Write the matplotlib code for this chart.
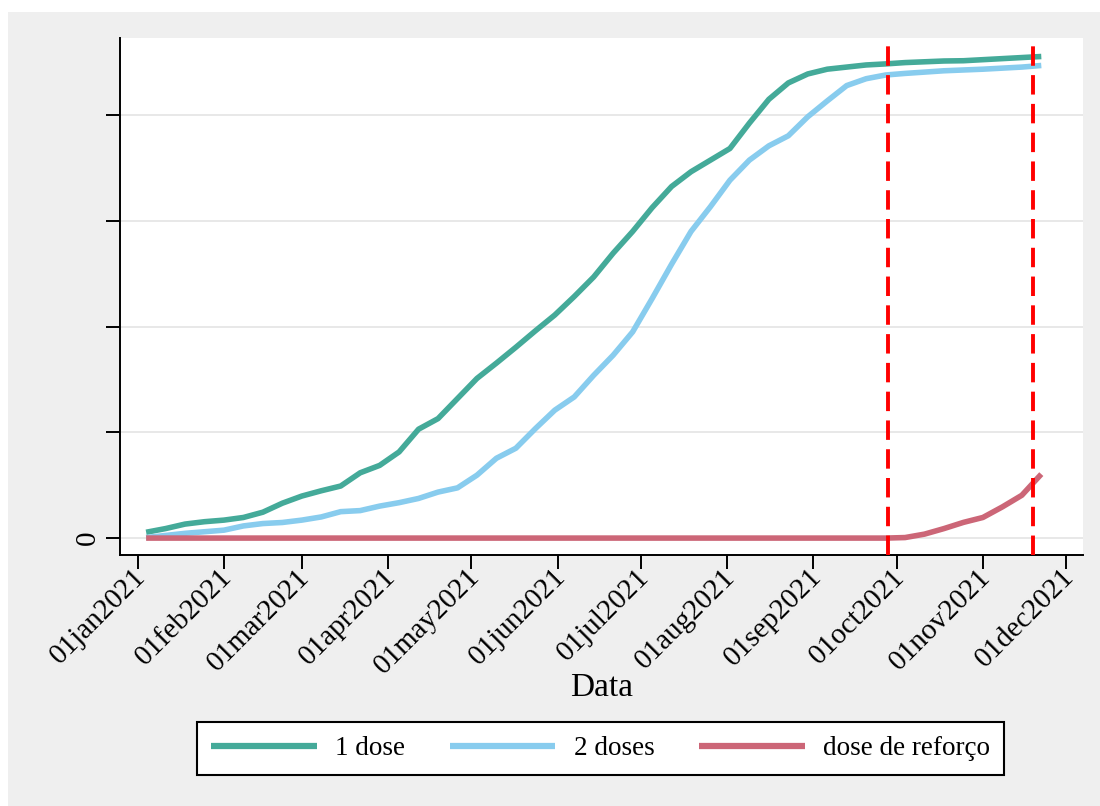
import numpy as np
import pandas as pd
import matplotlib
matplotlib.use("Agg")
import matplotlib.pyplot as plt
import matplotlib.dates as mdates
import matplotlib.transforms as mtransforms
from matplotlib.patches import Rectangle

# weekly series, % of population (y tick labels hidden except 0)
dates = pd.date_range("2021-01-04", periods=47, freq="7D")

dose1 = [1.1, 1.8, 2.65, 3.1, 3.4, 3.9, 4.9, 6.6, 7.95, 8.95,
         9.85, 12.35, 13.75, 16.3, 20.6, 22.6, 26.4, 30.2, 33.1, 36.1,
         39.2, 42.2, 45.7, 49.4, 53.9, 58.0, 62.5, 66.5, 69.3, 71.5,
         73.7, 78.5, 83.0, 86.1, 87.8, 88.7, 89.1, 89.5, 89.7, 89.95,
         90.1, 90.25, 90.3, 90.5, 90.7, 90.9, 91.1]

dose2 = [0.1, 0.5, 0.9, 1.2, 1.5, 2.3, 2.75, 2.95, 3.4, 4.0,
         5.0, 5.2, 6.05, 6.7, 7.5, 8.7, 9.5, 11.9, 15.1, 17.0,
         20.7, 24.2, 26.7, 30.8, 34.6, 39.0, 45.3, 51.8, 58.0, 62.7,
         67.7, 71.5, 74.2, 76.1, 79.7, 82.7, 85.6, 86.9, 87.6, 87.9,
         88.15, 88.4, 88.55, 88.7, 88.9, 89.1, 89.4]

booster = [0.0] * 39 + [0.1, 0.75, 1.8, 2.97, 3.9, 5.9, 8.1, 12.1]

vlines = ["2021-09-28", "2021-11-19"]
month_ticks = pd.date_range("2021-01-01", "2021-12-01", freq="MS")
month_labels = [d.strftime("%d%b%Y").lower() for d in month_ticks]
y_ticks = [0, 20, 40, 60, 80]
y_labels = ["0", "", "", "", ""]
labels = ["1 dose", "2 doses", "dose de reforço"]
colors = ["#44AA99", "#88CCEE", "#CC6677"]

plt.rcParams["font.family"] = ["Liberation Serif", "DejaVu Serif"]
bg = "#efefef"

fig = plt.figure(figsize=(11, 8.06), dpi=100, facecolor="white")
fig.patches.append(Rectangle((8 / 1100, 0), 1, 1 - 12 / 806, transform=fig.transFigure,
                             facecolor=bg, edgecolor="none", zorder=-10))

ax = fig.add_axes([120 / 1100, 1 - 555 / 806, (1083 - 120) / 1100, (555 - 38) / 806])
ax.set_facecolor("white")

for vals, lab, c in zip([dose1, dose2, booster], labels, colors):
    ax.plot(dates, vals, color=c, lw=4.0, label=lab, solid_capstyle="butt", zorder=3)

for d in vlines:
    ax.axvline(pd.Timestamp(d), color="#ff0000", lw=2.8, ls=(0, (5, 2.4)), zorder=4)

jan1 = mdates.date2num(pd.Timestamp("2021-01-01"))
ax.set_xlim(jan1 - 6.4, jan1 + 340.0)
ax.set_ylim(-3.2, 94.6)

ax.set_yticks(y_ticks)
ax.set_yticklabels(y_labels, rotation=90, va="center", fontsize=21)
ax.set_xticks(month_ticks)
ax.set_xticklabels(month_labels, rotation=45, ha="right", va="center",
                   rotation_mode="anchor", fontsize=21)
ax.tick_params(axis="both", length=10, width=1.4, direction="out", pad=4)
ax.tick_params(axis="x", pad=3)
shift = mtransforms.ScaledTranslation(4 / 100, 0, fig.dpi_scale_trans)
for t in ax.get_xticklabels():
    t.set_transform(t.get_transform() + shift)

ax.grid(axis="y", color="#e8e8e8", lw=1.4, zorder=0)
ax.set_axisbelow(True)
for s in ["top", "right"]:
    ax.spines[s].set_visible(False)
for s in ["left", "bottom"]:
    ax.spines[s].set_linewidth(1.4)

ax.set_xlabel("Data", fontsize=24)
ax.xaxis.label.set_va("center")
ax.xaxis.set_label_coords(0.5, (555 - 688) / 517)

leg = fig.legend(loc="center", bbox_to_anchor=(600.5 / 1100, 1 - 748.5 / 806), ncol=3,
                 fontsize=19.5, frameon=True, fancybox=False, handlelength=3.9,
                 handletextpad=0.68, columnspacing=1.65, borderpad=0.5)
leg.get_frame().set_edgecolor("black")
leg.get_frame().set_linewidth(1.5)
leg.get_frame().set_facecolor("white")
leg.get_frame().set_alpha(1)
for h in leg.get_lines():
    h.set_linewidth(4.5)

fig.savefig("out.png", dpi=100, facecolor=fig.get_facecolor())
